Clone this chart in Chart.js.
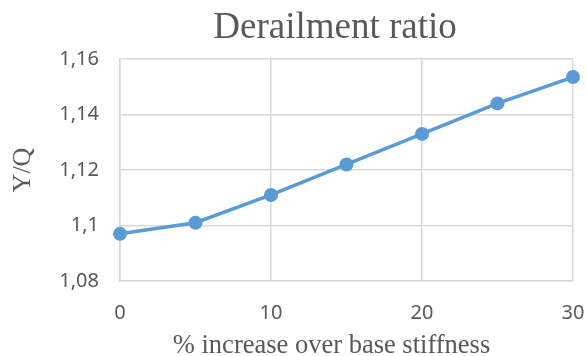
<!DOCTYPE html>
<html>
<head>
<meta charset="utf-8">
<script src="https://cdn.jsdelivr.net/npm/chart.js@4/dist/chart.umd.min.js"></script>
<style>
  html, body { margin: 0; padding: 0; background: #ffffff; }
  #wrap { width: 586px; height: 356px; }
</style>
</head>
<body>
<div id="wrap"><canvas id="c" width="586" height="356"></canvas></div>
<script>
// Data
const xValues = [0, 5, 10, 15, 20, 25, 30];
const yValues = [1.097, 1.101, 1.111, 1.122, 1.133, 1.144, 1.1535];
const yTickValues = [1.08, 1.10, 1.12, 1.14, 1.16];
const yTickLabels = ['1,08', '1,1', '1,12', '1,14', '1,16'];
const xTickValues = [0, 10, 20, 30];
const xTickLabels = ['0', '10', '20', '30'];
const chartTitle = 'Derailment ratio';
const xAxisTitle = '% increase over base stiffness';
const yAxisTitle = 'Y/Q';

const points = xValues.map((x, i) => ({ x: x, y: yValues[i] }));

const textGray = '#595959';
const gridGray = '#d9d9d9';
const lineBlue = '#5b9bd5';
const serif = '"Liberation Serif", "Times New Roman", serif';
const sans = '"Noto Sans", "Open Sans", sans-serif';

const shiftTitle = {
  id: 'shiftTitle',
  afterLayout(chart) {
    const tb = chart.titleBlock;
    if (tb) {
      tb.left = chart.chartArea.left - 23;
      tb.right = chart.chartArea.right;
    }
  }
};

// x-axis title, centred slightly left of the plot centre as in the reference
const xTitlePlugin = {
  id: 'xTitlePlugin',
  afterDraw(chart) {
    const ctx = chart.ctx;
    const a = chart.chartArea;
    ctx.save();
    ctx.fillStyle = textGray;
    ctx.font = '26.5px ' + serif;
    ctx.textAlign = 'center';
    ctx.textBaseline = 'alphabetic';
    ctx.fillText(xAxisTitle, (a.left + a.right) / 2 - 15, chart.height - 3);
    ctx.restore();
  }
};

new Chart(document.getElementById('c'), {
  type: 'line',
  data: {
    datasets: [{
      data: points,
      borderColor: lineBlue,
      backgroundColor: lineBlue,
      borderWidth: 3.5,
      pointRadius: 7,
      pointBorderWidth: 0,
      pointBackgroundColor: lineBlue,
      pointBorderColor: lineBlue,
      tension: 0,
      fill: false,
      clip: false
    }]
  },
  options: {
    responsive: false,
    animation: false,
    devicePixelRatio: 1,
    layout: { padding: { left: 0, right: 13, top: 0, bottom: 0 } },
    plugins: {
      legend: { display: false },
      tooltip: { enabled: false },
      title: {
        display: true,
        text: chartTitle,
        fullSize: false,
        color: textGray,
        font: { family: serif, size: 37, weight: 'normal' },
        padding: { top: 6, bottom: 8.6 }
      }
    },
    scales: {
      x: {
        type: 'linear',
        min: 0,
        max: 30,
        afterBuildTicks(scale) {
          scale.ticks = xTickValues.map(v => ({ value: v }));
        },
        afterFit(scale) { scale.height = 75; scale.paddingLeft = 0; scale.paddingRight = 0; },
        ticks: {
          color: textGray,
          padding: 20,
          font: { family: sans, size: 20 },
          callback: (v) => { const i = xTickValues.indexOf(v); return i >= 0 ? xTickLabels[i] : ''; }
        },
        grid: { color: gridGray, lineWidth: 1.5, drawTicks: false },
        border: { color: gridGray, width: 1.5 },
        title: { display: false }
      },
      y: {
        type: 'linear',
        min: 1.08,
        max: 1.16,
        afterBuildTicks(scale) {
          scale.ticks = yTickValues.map(v => ({ value: v }));
        },
        afterFit(scale) { scale.width = 120; scale.paddingTop = 0; scale.paddingBottom = 0; },
        ticks: {
          color: textGray,
          padding: 21,
          font: { family: sans, size: 20 },
          callback: (v) => {
            const i = yTickValues.findIndex(t => Math.abs(t - v) < 1e-9);
            return i >= 0 ? yTickLabels[i] : '';
          }
        },
        grid: { color: gridGray, lineWidth: 1.5, drawTicks: false },
        border: { color: gridGray, width: 1.5 },
        title: {
          display: true,
          text: yAxisTitle,
          color: textGray,
          font: { family: serif, size: 26 },
          padding: { top: 8, bottom: 0 }
        }
      }
    }
  },
  plugins: [shiftTitle, xTitlePlugin]
});
</script>
</body>
</html>
